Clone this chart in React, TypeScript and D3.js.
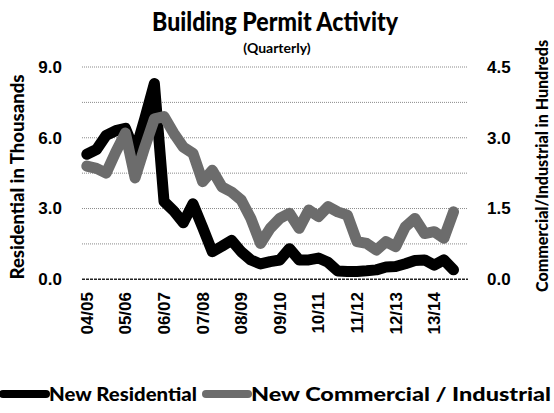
import React from "react";
import * as d3 from "d3";

// fiscal years shown on the axis, one label per 4 quarters
const yearLabels = ["04/05", "05/06", "06/07", "07/08", "08/09", "09/10", "10/11", "11/12", "12/13", "13/14"];
const quarters = yearLabels.flatMap((y) => ["Q1", "Q2", "Q3", "Q4"].map((q) => `${y} ${q}`));

// residential permits, thousands (left axis)
const residential = [
  5.3, 5.5, 6.1, 6.3, 6.4, 5.4, 6.8, 8.3, 3.3, 2.9, 2.4, 3.2, 2.2, 1.17, 1.4, 1.65, 1.17, 0.82, 0.65, 0.75,
  0.82, 1.3, 0.82, 0.82, 0.9, 0.72, 0.35, 0.33, 0.33, 0.36, 0.4, 0.52, 0.54, 0.66, 0.8, 0.82, 0.6, 0.82, 0.4,
];
// commercial / industrial permits, hundreds (right axis)
const commercial = [
  2.4, 2.35, 2.25, 2.7, 3.1, 2.15, 2.8, 3.4, 3.45, 3.1, 2.8, 2.67, 2.07, 2.31, 1.96, 1.85, 1.68, 1.29, 0.76, 1.08,
  1.29, 1.4, 1.08, 1.47, 1.33, 1.54, 1.43, 1.36, 0.8, 0.76, 0.62, 0.8, 0.69, 1.11, 1.29, 0.97, 1.01, 0.87, 1.43,
];

const leftTicks = [0, 1.5, 3, 4.5, 6, 7.5, 9];
const leftLabels = [0, 3, 6, 9];
const rightLabels = [0, 1.5, 3, 4.5];

const W = 554;
const H = 413;
const plot = { left: 82, right: 468, top: 67, bottom: 279.3 };
const numFont = "'Liberation Sans', Arial, sans-serif";
const titleFont = "Lato, 'Open Sans', sans-serif";
const gray = "#6c6c6c";

export default function App() {
  const x = d3.scaleBand<number>().domain(d3.range(quarters.length)).range([plot.left, plot.right]);
  const cx = (i: number) => (x(i) as number) + x.bandwidth() / 2;
  const yL = d3.scaleLinear().domain([0, 9]).range([plot.bottom, plot.top]);
  const yR = d3.scaleLinear().domain([0, 4.5]).range([plot.bottom, plot.top]);

  const resLine = d3.line<number>().x((_, i) => cx(i)).y((d) => yL(d));
  const comLine = d3.line<number>().x((_, i) => cx(i)).y((d) => yR(d));

  return (
    <svg width={W} height={H} style={{ position: "absolute", left: 0, top: 0, background: "#fff" }}>
      <text x={275} y={31} textAnchor="middle" fontFamily={titleFont} fontWeight="900" fontSize={27}
        textLength={246} lengthAdjust="spacingAndGlyphs">
        Building Permit Activity
      </text>
      <text x={277} y={53} textAnchor="middle" fontFamily={titleFont} fontWeight="bold" fontSize={14}>
        (Quarterly)
      </text>

      {leftTicks.map((t) => (
        <line key={t} x1={plot.left} x2={plot.right} y1={yL(t)} y2={yL(t)}
          stroke={t === 0 ? "#222" : "#8a8a8a"} strokeWidth={t === 0 ? 1.6 : 1}
          strokeDasharray={t === 0 ? "3,1" : "1,1"} />
      ))}

      {leftLabels.map((t) => (
        <text key={t} x={62} y={yL(t)} dy="0.35em" textAnchor="end" fontFamily={numFont}
          fontWeight="bold" fontSize={17}>
          {d3.format(".1f")(t)}
        </text>
      ))}
      {rightLabels.map((t) => (
        <text key={t} x={487} y={yR(t)} dy="0.35em" textAnchor="start" fontFamily={numFont}
          fontWeight="bold" fontSize={17}>
          {d3.format(".1f")(t)}
        </text>
      ))}

      <text transform={`translate(24,177) rotate(-90)`} textAnchor="middle" fontFamily={titleFont}
        fontWeight="900" fontSize={18} textLength={205} lengthAdjust="spacingAndGlyphs">
        Residential in Thousands
      </text>
      <text transform={`translate(548,166) rotate(-90)`} textAnchor="middle" fontFamily={titleFont}
        fontWeight="900" fontSize={17} textLength={252} lengthAdjust="spacingAndGlyphs">
        Commercial/Industrial in Hundreds
      </text>

      {yearLabels.map((lab, k) => (
        <text key={lab} transform={`translate(${cx(k * 4) + 6},292) rotate(-90)`} textAnchor="end"
          fontFamily={numFont} fontWeight="bold" fontSize={17}>
          {lab}
        </text>
      ))}

      <path d={resLine(residential) as string} fill="none" stroke="#000" strokeWidth={11}
        strokeLinejoin="round" strokeLinecap="round" />
      <path d={comLine(commercial) as string} fill="none" stroke={gray} strokeWidth={11}
        strokeLinejoin="round" strokeLinecap="round" />

      <line x1={3} x2={46} y1={394} y2={394} stroke="#000" strokeWidth={8} strokeLinecap="round" />
      <text x={49} y={401} fontFamily={titleFont} fontWeight="900" fontSize={19}
        textLength={148} lengthAdjust="spacingAndGlyphs">
        New Residential
      </text>
      <line x1={206} x2={248} y1={394} y2={394} stroke={gray} strokeWidth={8} strokeLinecap="round" />
      <text x={251} y={401} fontFamily={titleFont} fontWeight="900" fontSize={19}
        textLength={300} lengthAdjust="spacingAndGlyphs">
        New Commercial / Industrial
      </text>
    </svg>
  );
}
